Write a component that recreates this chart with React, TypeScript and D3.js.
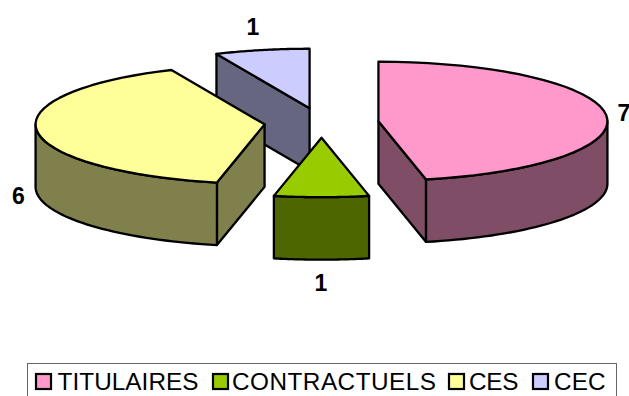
import * as d3 from "d3";

const categories = ["TITULAIRES", "CONTRACTUELS", "CES", "CEC"];
const values = [7, 1, 6, 1];
const topColors = ["#FF99CC", "#99CC00", "#FFFF99", "#CCCCFF"];
const sideColors = ["#804D66", "#4D6600", "#80804D", "#666680"];
const legendX = [36, 213, 449, 533];
const legendTextX = [57.5, 232, 469, 554];
const legendTextW = [141, 204, 49.5, 51.5];
const labelPos: [number, number][] = [
  [624, 121],
  [321, 291],
  [18.5, 203.5],
  [253, 35],
];

const WIDTH = 629;
const HEIGHT = 396;
const CX = 321.5;
const CY = 122.8;
const RX = 229;
const RY = 59.5;
const DEPTH = 62.5;
const EXPLODE = 0.25;

const TAU = 2 * Math.PI;
const pie = d3.pie<number>().sort(null)(values);
const line = d3.line();

// clock angle -> screen point on the squashed circle, r=1 is the rim
const project = (a: number, r: number, cx: number, cy: number): [number, number] => [
  cx + RX * r * Math.sin(a),
  cy - RY * r * Math.cos(a),
];

const slices = pie.map((d, i) => {
  const mid = (d.startAngle + d.endAngle) / 2;
  const [cx, cy] = project(mid, EXPLODE, CX, CY);
  const rim = (a0: number, a1: number, dy = 0) =>
    d3
      .range(0, 41)
      .map((k) => project(a0 + ((a1 - a0) * k) / 40, 1, cx, cy + dy));
  const apex: [number, number] = [cx, cy];
  const apexLow: [number, number] = [cx, cy + DEPTH];

  const top = line([apex, ...rim(d.startAngle, d.endAngle)]) + "Z";

  const faces: string[] = [];
  const radial = (a: number) => {
    const p = project(a, 1, cx, cy);
    const q = project(a, 1, cx, cy + DEPTH);
    faces.push(line([apex, p, q, apexLow]) + "Z");
  };
  if (Math.sin(d.startAngle) < -1e-6) radial(d.startAngle);
  if (Math.sin(d.endAngle) > 1e-6) radial(d.endAngle);

  const w0 = Math.max(d.startAngle, TAU / 4);
  const w1 = Math.min(d.endAngle, (3 * TAU) / 4);
  if (w1 > w0) {
    faces.push(line([...rim(w0, w1), ...rim(w0, w1, DEPTH).reverse()]) + "Z");
  }
  return { i, top, faces };
});

// painter's order, back slices first
const drawOrder = [3, 2, 0, 1];

export default function App() {
  return (
    <svg
      width={WIDTH}
      height={HEIGHT}
      style={{ position: "absolute", left: 0, top: 0, background: "#fff" }}
      fontFamily="'Liberation Sans', Arial, sans-serif"
    >
      {drawOrder.map((idx) => {
        const s = slices[idx];
        return (
          <g key={idx} stroke="#000" strokeWidth={2.3} strokeLinejoin="round">
            {s.faces.map((f, j) => (
              <path key={j} d={f} fill={sideColors[idx]} />
            ))}
            <path d={s.top} fill={topColors[idx]} />
          </g>
        );
      })}

      {values.map((v, i) => (
        <text
          key={i}
          x={labelPos[i][0]}
          y={labelPos[i][1]}
          textAnchor="middle"
          fontSize={23}
          fontWeight={700}
        >
          {v}
        </text>
      ))}

      <rect x={27.5} y={363.5} width={589} height={40} fill="#fff" stroke="#666" strokeWidth={1} />
      {categories.map((c, i) => (
        <g key={c}>
          <rect
            x={legendX[i]}
            y={374}
            width={15}
            height={15}
            fill={topColors[i]}
            stroke="#000"
            strokeWidth={2.2}
          />
          <text x={legendTextX[i]} y={390} fontSize={24.3} textLength={legendTextW[i]}>
            {c}
          </text>
        </g>
      ))}
    </svg>
  );
}
